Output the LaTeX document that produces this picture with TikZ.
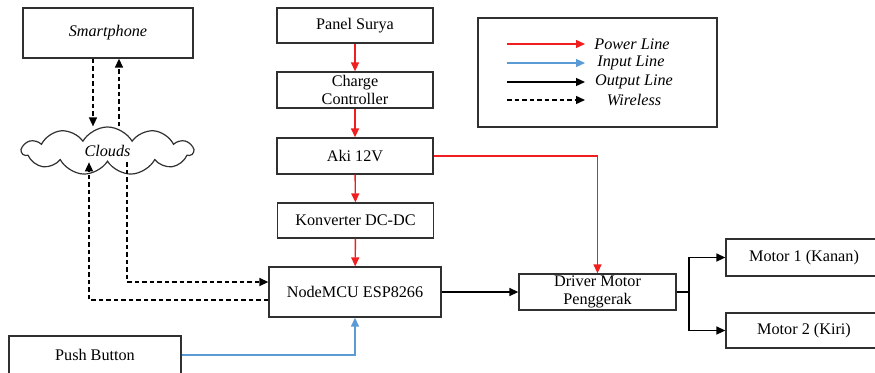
\documentclass[tikz,border=0pt]{standalone}
\usepackage{fontspec}
\setmainfont{Liberation Serif}
\usepackage{xcolor}
\usetikzlibrary{arrows.meta,positioning,shapes.symbols,calc}
\definecolor{ink}{HTML}{303030}
\definecolor{powerred}{HTML}{F01E1E}
\definecolor{inputblue}{HTML}{5B9BD5}
\tikzset{
  block diagram/.style={
    x=1pt, y=-1pt,
    font=\rmfamily\fontsize{16.2}{18.5}\selectfont,
    line cap=butt,
    line join=miter
  },
  blockbox/.style={
    draw=ink,
    line width=1.3pt,
    align=center,
    fill=white,
    inner sep=1pt
  },
  colbox/.style={blockbox, minimum width=156pt, minimum height=36pt},
  cloudbox/.style={
    cloud,
    cloud puffs=11,
    cloud puff arc=120,
    aspect=3.5,
    draw=ink,
    line width=1.2pt,
    minimum width=171pt,
    minimum height=48pt,
    inner sep=0pt,
    font=\rmfamily\fontsize{16.2}{18.5}\selectfont\itshape
  },
  legendbox/.style={draw=ink, line width=1.3pt, minimum width=239pt, minimum height=109pt},
  legendtext/.style={font=\rmfamily\fontsize{16.2}{18.5}\selectfont\itshape, inner sep=1pt},
  tip/.style={-{Triangle[length=9pt,width=8pt]}},
  powerline/.style={tip, draw=powerred, line width=1.4pt},
  inputline/.style={tip, draw=inputblue, line width=1.4pt},
  outputline/.style={tip, draw=black, line width=1.4pt},
  wireless/.style={tip, draw=black, line width=1.4pt, dash pattern=on 4.5pt off 3pt},
  plainline/.style={draw=black, line width=1.4pt}
}
\begin{document}
\begin{tikzpicture}[block diagram]
\useasboundingbox (0,0) rectangle (875,372);
% power column
\node[colbox, minimum height=35pt] (panel) at (355,25.5) {Panel Surya};
\node[colbox] (charge) at (355,90) {Charge\\Controller};
\node[colbox] (aki) at (355,156) {Aki 12V};
\node[colbox, minimum height=35pt] (konv) at (355.5,220.5) {Konverter DC-DC};
\node[blockbox, minimum width=172pt, minimum height=50pt] (mcu) at (355,292) {NodeMCU ESP8266};
% left side
\node[blockbox, minimum width=170pt, minimum height=50pt, font=\rmfamily\fontsize{16.2}{18.5}\selectfont\itshape] (phone) at (108,33) {Smartphone};
\node[cloudbox] (clouds) at (107.5,151) {Clouds};
\node[blockbox, minimum width=172pt, minimum height=38pt] (push) at (95,355) {Push Button};
% right side
\node[blockbox, minimum width=157pt, minimum height=36pt] (driver) at (597.5,292) {Driver Motor\\Penggerak};
\node[blockbox, minimum width=156pt, minimum height=37pt] (m1) at (804,257.5) {Motor 1 (Kanan)};
\node[blockbox, minimum width=156pt, minimum height=35pt] (m2) at (804,330.5) {Motor 2 (Kiri)};
\coordinate (branch) at (689,292);
% legend
\node[legendbox] (legend) at (597.5,72.5) {};
\node[legendtext] (lpower) at (632,44) {Power Line};
\node[legendtext] (linput) at (631,63) {Input Line};
\node[legendtext] (loutput) at (634,82) {Output Line};
\node[legendtext] (lwireless) at (634,100) {Wireless};
\coordinate (pa) at (507,44);  \coordinate (pb) at (585,44);
\coordinate (ia) at (507,63);  \coordinate (ib) at (585,63);
\coordinate (oa) at (507,82);  \coordinate (ob) at (585,82);
\coordinate (wa) at (507,100); \coordinate (wb) at (585,100);
\draw[powerline] (pa) -- (pb);
\draw[inputline] (ia) -- (ib);
\draw[outputline] (oa) -- (ob);
\draw[wireless] (wa) -- (wb);
% power
\draw[powerline] (panel) -- (charge);
\draw[powerline] (charge) -- (aki);
\draw[powerline] (aki) -- (konv);
\draw[powerline] (konv) -- (mcu);
\draw[powerline] (aki.east) -| (driver.north);
% input / output
\draw[inputline] (push.east) -| (mcu.south);
\draw[outputline] (mcu.east) -- (driver.west);
\draw[plainline] (driver.east) -- (branch);
\draw[outputline] (branch) |- (m1.west);
\draw[outputline] (branch) |- (m2.west);
% wireless
\draw[wireless] ([xshift=-15pt]phone.south) -- ([xshift=-15pt]phone.south |- clouds.north);
\draw[wireless] ([xshift=11pt]phone.south |- clouds.north) -- ([xshift=11pt]phone.south);
\draw[wireless] ([xshift=19.5pt]clouds.south) |- ([yshift=10pt]mcu.west);
\draw[wireless] ([yshift=-8pt]mcu.west) -| ([xshift=-18.5pt]clouds.south);
\end{tikzpicture}
\end{document}
